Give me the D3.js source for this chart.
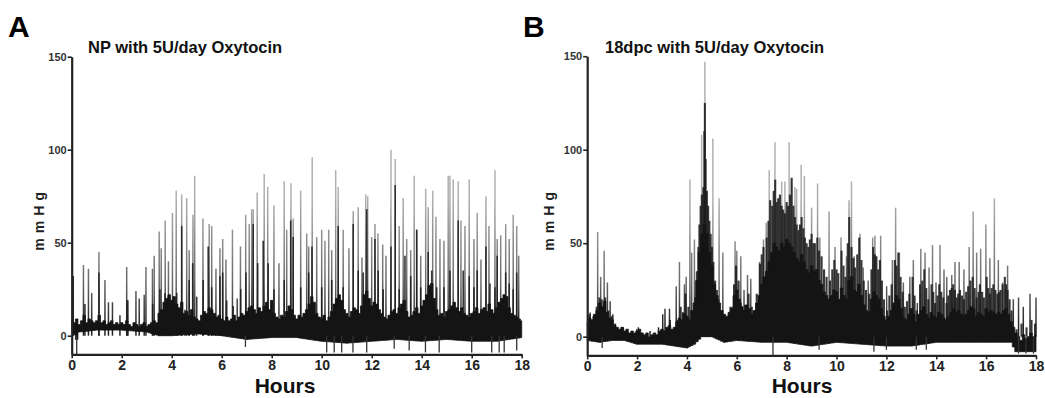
<!DOCTYPE html>
<html>
<head>
<meta charset="utf-8">
<script src="https://cdn.jsdelivr.net/npm/d3@7"></script>
<style>
  body { margin: 0; background: #fff; }
  svg { display: block; font-family: "Liberation Sans", Arial, sans-serif; }
</style>
</head>
<body>
<svg id="chart" width="1045" height="398"></svg>
<script>
// tick labels
var hourTicks = [0, 2, 4, 6, 8, 10, 12, 14, 16, 18];
var pressureTicks = [0, 50, 100, 150];

// the baseline noise is read every 6 minutes
var noiseStep = 0.1;

// panel A: NP, contraction peaks [hour, mmHg]
var npSpikes = [
    [0.05, 32], [0.47, 38], [0.67, 36], [0.8, 23], [1.09, 45], [1.33, 30], [1.47, 18], [1.63, 18],
    [1.93, 11], [2.2, 37], [2.25, 19], [2.57, 24], [2.7, 20], [2.9, 22], [2.97, 37], [3.23, 36],
    [3.3, 43], [3.5, 56], [3.58, 47], [3.74, 62], [3.87, 40], [4.03, 66], [4.18, 78], [4.4, 76],
    [4.6, 74], [4.7, 46], [4.85, 65], [4.92, 86], [5.25, 63], [5.5, 60], [5.6, 59], [5.77, 36],
    [5.93, 47], [6.04, 52], [6.17, 41], [6.43, 57], [6.62, 20], [6.75, 48], [6.96, 65], [7.1, 60],
    [7.2, 68], [7.26, 68], [7.42, 77], [7.7, 87], [7.84, 80], [8.09, 70], [8.29, 39], [8.5, 83],
    [8.6, 57], [8.77, 82], [8.86, 63], [9.16, 78], [9.4, 55], [9.48, 48], [9.62, 96], [9.8, 53],
    [10.0, 57], [10.13, 51], [10.28, 57], [10.4, 46], [10.56, 89], [10.66, 80], [10.86, 57],
    [11.09, 47], [11.26, 67], [11.46, 69], [11.61, 42], [11.76, 76], [11.84, 75], [12.0, 53],
    [12.13, 60], [12.25, 55], [12.44, 49], [12.57, 43], [12.77, 100], [12.94, 95], [13.1, 59],
    [13.26, 74], [13.4, 52], [13.56, 46], [13.7, 86], [13.8, 57], [13.96, 43], [14.16, 79],
    [14.26, 69], [14.44, 78], [14.57, 64], [14.73, 52], [14.89, 51], [15.06, 86], [15.13, 86],
    [15.26, 84], [15.46, 83], [15.57, 62], [15.73, 59], [15.9, 84], [16.09, 52], [16.22, 66],
    [16.37, 41], [16.57, 75], [16.69, 59], [16.93, 89], [17.02, 52], [17.16, 54], [17.36, 60],
    [17.5, 52], [17.66, 65], [17.8, 59], [17.88, 43]
];
// darker part of the contractions [hour, mmHg]
var npDark = [
    [0.06, 32], [0.53, 17], [1.09, 34], [2.22, 19], [3.24, 17], [3.53, 25], [3.73, 23], [3.86, 21],
    [4.0, 16], [4.2, 23], [4.4, 59], [4.53, 14], [4.7, 30], [4.84, 39], [5.0, 21], [5.26, 30],
    [5.46, 48], [5.6, 26], [5.93, 32], [6.04, 34], [6.2, 19], [6.46, 16], [6.76, 25], [6.97, 34],
    [7.26, 60], [7.44, 39], [7.66, 51], [7.86, 39], [8.09, 25], [8.5, 30], [8.76, 62], [8.86, 53],
    [9.16, 26], [9.48, 34], [9.61, 48], [10.0, 26], [10.4, 30], [10.66, 59], [10.86, 26],
    [11.26, 60], [11.46, 35], [11.66, 34], [11.8, 68], [12.13, 52], [12.26, 35], [12.46, 25],
    [12.77, 48], [12.94, 81], [13.1, 25], [13.33, 43], [13.56, 32], [13.8, 57], [13.96, 26],
    [14.26, 45], [14.4, 35], [14.6, 26], [14.89, 26], [15.13, 35], [15.46, 62], [15.66, 35],
    [15.9, 32], [16.09, 26], [16.22, 35], [16.57, 48], [16.73, 28], [16.93, 26], [17.02, 43],
    [17.36, 34], [17.5, 28], [17.66, 25], [17.8, 34]
];
// top of the baseline noise, one value per 0.1 h from 0 to 18
var npNoise = [
    8, 7, 9, 6, 8, 11, 7, 9, 8, 7,
    8, 11, 7, 8, 6, 7, 8, 6, 7, 6,
    7, 6, 8, 6, 5, 7, 6, 5, 6, 7,
    5, 6, 7, 8, 7, 12, 14, 18, 20, 22,
    19, 21, 17, 15, 18, 12, 13, 11, 14, 10,
    9, 8, 11, 13, 12, 15, 14, 12, 10, 11,
    9, 8, 10, 8, 9, 11, 8, 10, 12, 11,
    13, 15, 16, 14, 12, 15, 13, 16, 18, 14,
    19, 12, 10, 9, 11, 10, 13, 16, 14, 11,
    9, 11, 10, 12, 14, 17, 21, 18, 12, 10,
    9, 11, 8, 10, 13, 17, 20, 22, 19, 14,
    12, 10, 13, 15, 14, 12, 16, 22, 24, 20,
    16, 18, 17, 14, 12, 10, 9, 11, 13, 14,
    12, 15, 17, 19, 13, 10, 11, 13, 15, 12,
    16, 19, 22, 27, 28, 20, 14, 11, 12, 10,
    13, 14, 16, 18, 15, 13, 15, 12, 11, 10,
    12, 13, 15, 12, 14, 15, 13, 17, 14, 12,
    15, 18, 20, 22, 21, 15, 12, 11, 10, 9,
    8
];
// lower edge of the trace [hour, mmHg]
var npLow = [
    [0, 3], [0.2, -2], [0.3, 2], [1, 3], [2, 3], [3, 2], [3.5, 0], [4, 0], [5, 1], [6, 0], [7, -2],
    [8, -1], [9, -1], [10, -3], [11, -4], [12, -3], [13, -2], [14, -3], [15, -2], [16, -3], [17, -3],
    [18, -1]
];
var npDips = [
    [0.2, -10], [6.95, -6], [10.2, -9], [10.5, -9], [10.8, -9], [11.25, -9], [11.8, -9], [12.9, -7],
    [13.5, -8], [14.15, -9], [14.7, -9], [16, -9], [16.8, -9], [17.1, -9], [17.3, -9], [17.8, -8]
];

// panel B: 18dpc, contraction peaks [hour, mmHg]
var dpcSpikes = [
    [0.12, 13], [0.25, 9], [0.42, 56], [0.54, 32], [0.68, 46], [0.81, 29], [0.92, 19], [1.03, 12],
    [1.45, 5], [1.99, 4], [2.05, 5], [2.52, 3], [2.86, 5], [3.03, 12], [3.12, 15], [3.3, 15],
    [3.57, 27], [3.7, 40], [3.83, 13], [3.9, 28], [3.97, 32], [4.12, 84], [4.19, 45], [4.3, 52],
    [4.59, 108], [4.72, 147], [5.04, 106], [5.29, 74], [5.44, 45], [5.73, 16], [5.93, 51],
    [6.0, 46], [6.16, 43], [6.29, 25], [6.43, 33], [6.56, 31], [6.67, 13], [6.91, 40], [7.07, 52],
    [7.18, 61], [7.3, 89], [7.53, 104], [7.8, 83], [7.93, 83], [8.1, 104], [8.2, 83], [8.33, 80],
    [8.4, 79], [8.58, 92], [8.71, 86], [9.0, 69], [9.24, 82], [9.33, 53], [9.7, 67], [9.94, 48],
    [10.18, 53], [10.4, 43], [10.5, 73], [10.6, 83], [10.71, 43], [10.94, 55], [11.07, 37],
    [11.27, 30], [11.45, 53], [11.54, 54], [11.77, 54], [12.01, 27], [12.24, 41], [12.37, 69],
    [12.52, 45], [12.68, 29], [12.94, 32], [13.08, 41], [13.24, 18], [13.38, 47], [13.55, 45],
    [13.71, 37], [13.85, 49], [13.99, 29], [14.15, 49], [14.31, 36], [14.42, 32], [14.62, 33],
    [14.75, 40], [14.92, 40], [15.11, 36], [15.32, 48], [15.48, 67], [15.62, 45], [15.78, 47],
    [15.99, 60], [16.15, 42], [16.33, 74], [16.49, 41], [16.66, 29], [16.86, 38], [17.09, 20],
    [17.3, 21], [17.49, 16], [17.76, 23], [18.0, 21]
];
var dpcDark = [
    [0.09, 12], [0.25, 11], [0.38, 16], [0.49, 21], [0.58, 20], [0.72, 21], [0.85, 14], [0.99, 11],
    [1.12, 7], [1.39, 5], [3.32, 9], [3.62, 9], [3.75, 16], [3.86, 13], [3.94, 23], [4.06, 16],
    [4.19, 9], [4.33, 21], [4.4, 35], [4.46, 48], [4.5, 60], [4.55, 70], [4.6, 76], [4.66, 80],
    [4.7, 110], [4.72, 125], [4.75, 95], [4.8, 78], [4.85, 70], [4.9, 62], [4.95, 55], [5.0, 48],
    [5.06, 40], [5.13, 30], [5.2, 25], [5.26, 20], [5.4, 12], [5.8, 16], [5.89, 28], [5.97, 38],
    [6.07, 30], [6.16, 18], [6.33, 17], [6.47, 23], [6.6, 16], [6.8, 23], [6.93, 39], [7.0, 44],
    [7.07, 48], [7.2, 53], [7.27, 62], [7.34, 73], [7.42, 70], [7.48, 78], [7.54, 84], [7.6, 72],
    [7.66, 74], [7.73, 76], [7.8, 70], [7.86, 68], [7.93, 66], [8.0, 72], [8.06, 70], [8.13, 76],
    [8.2, 85], [8.27, 70], [8.33, 64], [8.4, 60], [8.47, 57], [8.53, 60], [8.6, 64], [8.67, 58],
    [8.73, 53], [8.8, 50], [8.87, 48], [8.93, 52], [9.0, 55], [9.07, 50], [9.13, 50], [9.23, 53],
    [9.3, 46], [9.4, 43], [9.5, 36], [9.6, 32], [9.74, 30], [9.83, 36], [9.91, 41], [10.0, 36],
    [10.07, 34], [10.2, 46], [10.28, 38], [10.36, 32], [10.45, 50], [10.51, 64], [10.6, 48],
    [10.67, 42], [10.74, 37], [10.83, 44], [10.91, 53], [11.0, 41], [11.09, 30], [11.18, 25],
    [11.31, 23], [11.4, 36], [11.47, 48], [11.54, 44], [11.6, 43], [11.67, 36], [11.74, 41],
    [11.82, 30], [11.9, 20], [12.03, 14], [12.12, 22], [12.21, 28], [12.34, 41], [12.41, 38],
    [12.48, 45], [12.57, 32], [12.65, 24], [12.74, 16], [12.83, 19], [12.92, 23], [13.05, 32],
    [13.13, 22], [13.21, 14], [13.35, 28], [13.44, 30], [13.52, 36], [13.6, 26], [13.68, 20],
    [13.81, 28], [13.88, 24], [13.95, 18], [14.05, 22], [14.12, 28], [14.2, 24], [14.28, 21],
    [14.41, 18], [14.48, 22], [14.55, 25], [14.62, 26], [14.68, 28], [14.75, 25], [14.82, 21],
    [14.88, 23], [14.95, 25], [15.03, 22], [15.11, 20], [15.2, 24], [15.28, 27], [15.37, 30],
    [15.46, 32], [15.54, 26], [15.62, 21], [15.7, 24], [15.75, 28], [15.84, 24], [15.91, 21],
    [16.02, 32], [16.08, 26], [16.15, 23], [16.22, 26], [16.29, 28], [16.37, 25], [16.45, 23],
    [16.52, 24], [16.58, 25], [16.66, 28], [16.75, 32], [16.8, 28], [16.86, 25], [16.94, 20],
    [17.02, 14], [17.22, 4], [17.42, 7], [17.62, 5], [17.82, 9], [17.96, 7]
];
var dpcNoise = [
    8, 10, 9, 12, 14, 18, 16, 19, 13, 10,
    9, 6, 5, 4, 5, 3, 4, 2, 3, 2,
    3, 4, 2, 1, 2, 0, 1, 2, 1, 3,
    4, 3, 5, 6, 4, 5, 8, 10, 9, 12,
    11, 9, 14, 18, 30, 45, 55, 60, 55, 45,
    38, 28, 22, 18, 14, 12, 11, 13, 15, 22,
    25, 20, 16, 14, 17, 15, 12, 14, 18, 22,
    28, 32, 35, 40, 45, 50, 48, 46, 50, 48,
    52, 50, 48, 45, 42, 40, 44, 40, 36, 34,
    38, 35, 36, 30, 28, 24, 22, 20, 22, 25,
    24, 20, 26, 22, 20, 30, 32, 25, 24, 28,
    22, 17, 14, 13, 20, 24, 22, 20, 15, 11,
    9, 11, 14, 18, 22, 20, 15, 10, 9, 12,
    15, 12, 8, 12, 14, 16, 12, 10, 13, 11,
    10, 13, 12, 10, 9, 11, 13, 15, 13, 14,
    12, 11, 12, 14, 16, 15, 11, 13, 12, 11,
    15, 13, 14, 13, 12, 13, 12, 14, 15, 12,
    8, 5, 2, 0, -2, 1, -1, 0, 2, 0,
    1
];
var dpcLow = [
    [0, -2], [0.5, -3], [1, -2], [1.5, -2], [2, -4], [3, -4], [3.5, -5], [4.0, -6], [4.3, -4],
    [4.6, 0], [5, 0], [5.5, -3], [6, -2], [7, -3], [8, -3], [9, -5], [10, -3], [11, -4], [12, -5],
    [13, -5], [14, -3], [15, -3], [16, -3], [17, -3], [17.2, -8], [18, -8]
];
var dpcDips = [
    [0.6, -6], [7.45, -10], [9.3, -7], [11.5, -8], [12.0, -7], [13.2, -7], [13.6, -7], [17.3, -9],
    [17.6, -9], [17.9, -9]
];

var svg = d3.select("#chart");
var defs = svg.append("defs");

function drawPanel(opt) {
    var g = svg.append("g");

    var x = d3.scaleLinear().domain([0, 18]).range(opt.xRange);
    var y = d3.scaleLinear().domain([-10, 150]).range(opt.yRange);

    // peaks fade to grey, darker near the baseline
    var grad = defs.append("linearGradient")
        .attr("id", opt.id + "-grad")
        .attr("gradientUnits", "userSpaceOnUse")
        .attr("x1", 0).attr("x2", 0)
        .attr("y1", y(5)).attr("y2", y(75));
    grad.append("stop").attr("offset", 0).attr("stop-color", "#222");
    grad.append("stop").attr("offset", 0.35).attr("stop-color", "#6a6a6a");
    grad.append("stop").attr("offset", 1).attr("stop-color", "#b0b0b0");

    g.append("g").selectAll("line")
        .data(opt.spikes)
        .enter().append("line")
        .attr("x1", function (d) { return x(d[0]); })
        .attr("x2", function (d) { return x(d[0]); })
        .attr("y1", y(0))
        .attr("y2", function (d) { return y(d[1]); })
        .attr("stroke", "url(#" + opt.id + "-grad)")
        .attr("stroke-width", 1.5);

    g.append("g").selectAll("line")
        .data(opt.dark)
        .enter().append("line")
        .attr("x1", function (d) { return x(d[0]); })
        .attr("x2", function (d) { return x(d[0]); })
        .attr("y1", y(0))
        .attr("y2", function (d) { return y(d[1]); })
        .attr("stroke", "#1c1c1c")
        .attr("stroke-opacity", 0.88)
        .attr("stroke-width", opt.darkWidth);

    // lower edge of the trace, looked up at each noise sample
    var low = d3.scaleLinear().domain(opt.low.map(function (d) { return d[0]; }))
        .range(opt.low.map(function (d) { return d[1]; }));

    var noiseArea = d3.area()
        .curve(d3.curveStep)
        .x(function (d, i) { return x(i * noiseStep); })
        .y0(function (d, i) { return y(low(i * noiseStep)); })
        .y1(function (d) { return y(d); });

    g.append("path")
        .datum(opt.noise)
        .attr("d", noiseArea)
        .attr("fill", "#141414")
        .attr("stroke", "#141414")
        .attr("stroke-width", 0.8);

    g.append("g").selectAll("line")
        .data(opt.dips)
        .enter().append("line")
        .attr("x1", function (d) { return x(d[0]); })
        .attr("x2", function (d) { return x(d[0]); })
        .attr("y1", y(0))
        .attr("y2", function (d) { return y(d[1]); })
        .attr("stroke", "#333")
        .attr("stroke-width", 1.3);

    // axes
    var yAxis = g.append("g")
        .attr("transform", "translate(" + opt.xRange[0] + ",0)")
        .call(d3.axisLeft(y).tickValues(pressureTicks).tickSize(4).tickSizeOuter(0).tickPadding(1));
    yAxis.selectAll("text").attr("font-size", 11).attr("font-weight", "bold").attr("fill", "#333");

    var xAxis = g.append("g")
        .attr("transform", "translate(0," + opt.yRange[0] + ")")
        .call(d3.axisBottom(x).tickValues(hourTicks).tickSize(4).tickSizeOuter(0).tickPadding(2));
    xAxis.selectAll("text").attr("font-size", 14).attr("font-weight", "bold").attr("fill", "#222");

    g.selectAll(".domain").attr("stroke", "#222").attr("stroke-width", 2.2);
    g.selectAll(".tick line").attr("stroke", "#222").attr("stroke-width", 1.6);
    g.selectAll(".tick text").attr("font-family", "Liberation Sans, Arial, sans-serif");

    // labels
    g.append("text")
        .attr("x", opt.letterX).attr("y", 37)
        .attr("font-size", 30).attr("font-weight", "bold")
        .text(opt.letter);

    g.append("text")
        .attr("x", opt.titleX).attr("y", 53)
        .attr("font-size", 16.5).attr("font-weight", "bold")
        .attr("fill", "#111")
        .text(opt.title);

    g.append("text")
        .attr("x", opt.hoursX).attr("y", 393)
        .attr("text-anchor", "middle")
        .attr("font-size", 21).attr("font-weight", "bold")
        .attr("fill", "#111")
        .text("Hours");

    g.append("text")
        .attr("transform", "translate(" + opt.unitX + ",221) rotate(-90)")
        .attr("text-anchor", "middle")
        .attr("font-size", 14).attr("font-weight", "bold")
        .attr("letter-spacing", 0.6)
        .attr("fill", "#222")
        .text("m m H g");
}

drawPanel({
    id: "np", letter: "A", letterX: 8, title: "NP with 5U/day Oxytocin", titleX: 88,
    xRange: [71.7, 521.7], yRange: [354.3, 56.7], hoursX: 285, unitX: 44, darkWidth: 1.6,
    spikes: npSpikes, dark: npDark, noise: npNoise, low: npLow, dips: npDips
});

drawPanel({
    id: "dpc", letter: "B", letterX: 523, title: "18dpc with 5U/day Oxytocin", titleX: 605,
    xRange: [587.2, 1036], yRange: [355.4, 56.2], hoursX: 802, unitX: 554, darkWidth: 2.1,
    spikes: dpcSpikes, dark: dpcDark, noise: dpcNoise, low: dpcLow, dips: dpcDips
});
</script>
</body>
</html>
